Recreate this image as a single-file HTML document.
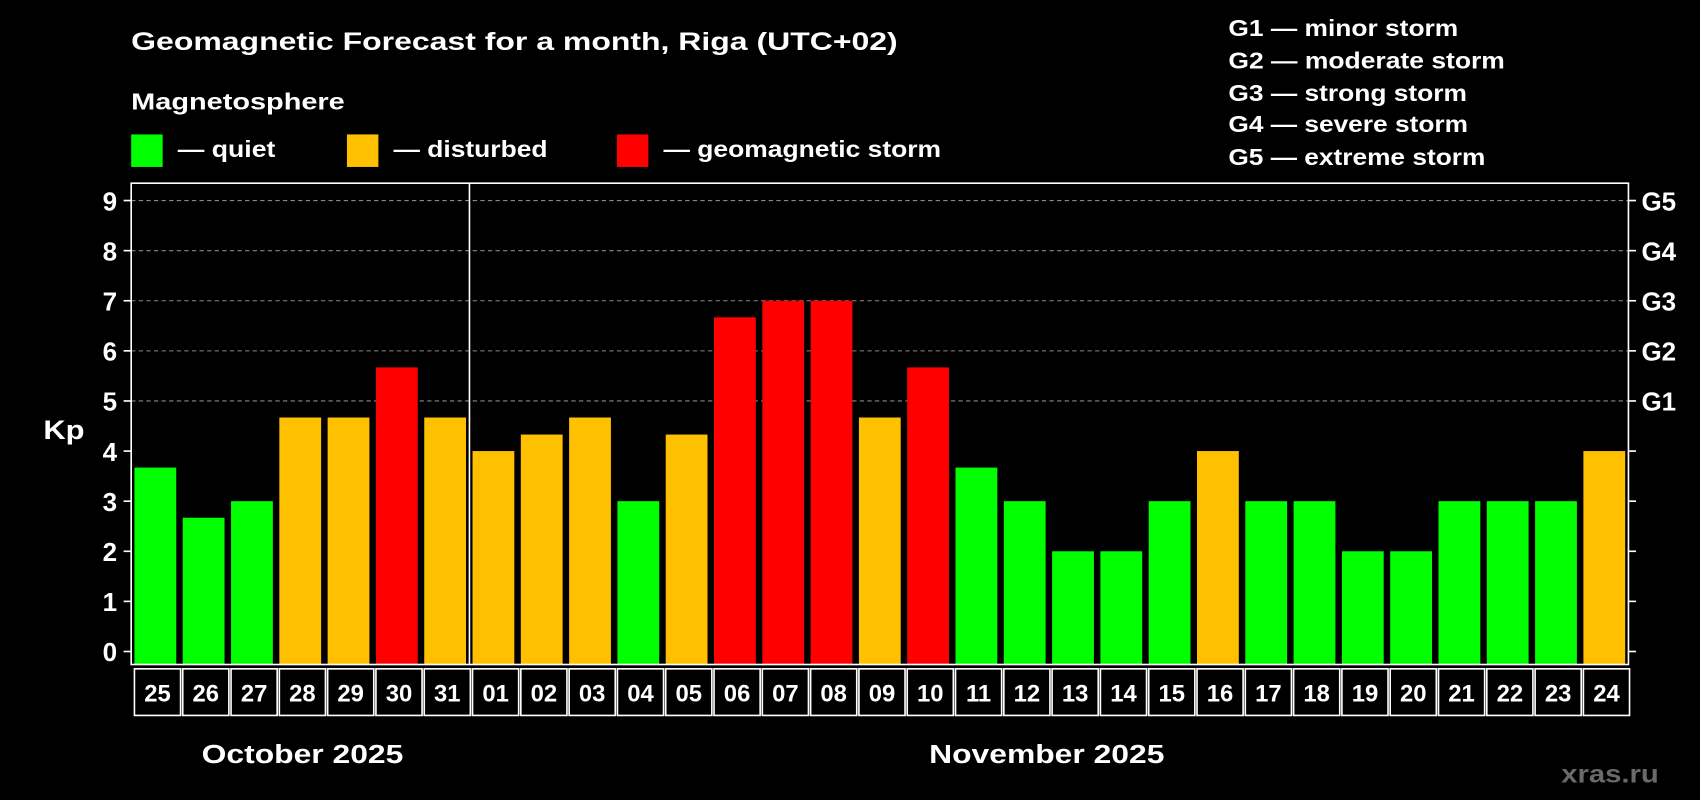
<!DOCTYPE html>
<html><head><meta charset="utf-8"><style>
html,body{margin:0;padding:0;background:#000;width:1700px;height:800px;overflow:hidden}
svg{display:block}
text{font-family:"Liberation Sans",Arial,sans-serif;font-weight:bold;fill:#fff}
</style></head><body>
<svg id="chart" width="1700" height="800" viewBox="0 0 1568 738" preserveAspectRatio="none" xmlns="http://www.w3.org/2000/svg">
<rect width="1568" height="738" fill="#000"/>
<text x="121" y="46" font-size="23" textLength="707" lengthAdjust="spacingAndGlyphs">Geomagnetic Forecast for a month, Riga (UTC+02)</text>
<text x="121" y="101" font-size="21" textLength="197" lengthAdjust="spacingAndGlyphs">Magnetosphere</text>
<rect x="121" y="124" width="29" height="30" fill="#00ff00"/>
<text x="164" y="145" font-size="21" textLength="90" lengthAdjust="spacingAndGlyphs">— quiet</text>
<rect x="320" y="124" width="29" height="30" fill="#ffc000"/>
<text x="363" y="145" font-size="21" textLength="142" lengthAdjust="spacingAndGlyphs">— disturbed</text>
<rect x="569" y="124" width="29" height="30" fill="#ff0000"/>
<text x="612" y="145" font-size="21" textLength="256" lengthAdjust="spacingAndGlyphs">— geomagnetic storm</text>
<g font-size="21">
<text x="1133" y="33" textLength="212" lengthAdjust="spacingAndGlyphs">G1 — minor storm</text>
<text x="1133" y="63" textLength="255" lengthAdjust="spacingAndGlyphs">G2 — moderate storm</text>
<text x="1133" y="93" textLength="220" lengthAdjust="spacingAndGlyphs">G3 — strong storm</text>
<text x="1133" y="122" textLength="221" lengthAdjust="spacingAndGlyphs">G4 — severe storm</text>
<text x="1133" y="152" textLength="237" lengthAdjust="spacingAndGlyphs">G5 — extreme storm</text>
</g>
<text x="40" y="405" font-size="25" textLength="38" lengthAdjust="spacingAndGlyphs">Kp</text>
<g id="grid"></g>
<g id="bars"></g>
<rect x="121" y="169" width="1381" height="444" fill="none" stroke="#fff" stroke-width="1.5"/>
<line x1="433" y1="169" x2="433" y2="613" stroke="#fff" stroke-width="1.5"/>
<g id="axes"></g>
<g id="xlabels"></g>
<text x="186" y="704" font-size="24" textLength="186" lengthAdjust="spacingAndGlyphs">October 2025</text>
<text x="857" y="704" font-size="24" textLength="217" lengthAdjust="spacingAndGlyphs">November 2025</text>
<text x="1440" y="722" font-size="23" textLength="90" lengthAdjust="spacingAndGlyphs" style="fill:#6a6a6a">xras.ru</text>
</svg>
<script>
const days = ["25","26","27","28","29","30","31","01","02","03","04","05","06","07","08","09","10","11","12","13","14","15","16","17","18","19","20","21","22","23","24"];
const kpValues = [3.67,2.67,3,4.67,4.67,5.67,4.67,4,4.33,4.67,3,4.33,6.67,7,7,4.67,5.67,3.67,3,2,2,3,4,3,3,2,2,3,3,3,4];
const yTicks = [0,1,2,3,4,5,6,7,8,9];
const gLabels = ["G1","G2","G3","G4","G5"];
const NS="http://www.w3.org/2000/svg";
const X0=121,X1=1502,Y0=601,Y9=185;
const slot=(X1-X0)/days.length;
const y=v=>Y0-(Y0-Y9)*v/9;
const xs=i=>X0+i*slot;
function mk(t,a,p){const e=document.createElementNS(NS,t);for(const k in a)e.setAttribute(k,a[k]);p.appendChild(e);return e;}
const grid=document.getElementById('grid'),bars=document.getElementById('bars'),axes=document.getElementById('axes'),xl=document.getElementById('xlabels');
yTicks.forEach(v=>{
  if(v>=5){const g=mk('line',{x1:X0,x2:X1,y1:y(v),y2:y(v),stroke:'#888','stroke-dasharray':'4 3','stroke-width':1},grid);
  
  }
  mk('line',{x1:X0-7,x2:X0,y1:y(v),y2:y(v),stroke:'#fff','stroke-width':1.5},axes);
  mk('line',{x1:X1,x2:X1+7,y1:y(v),y2:y(v),stroke:'#fff','stroke-width':1.5},axes);
  const t=mk('text',{x:X0-13,y:y(v)+9,'font-size':24,'text-anchor':'end'},axes);
  t.textContent=v;
  
  
});
gLabels.forEach((g,i)=>{
  const t=mk('text',{x:X1+12,y:y(5+i)+9,'font-size':24},axes);
  t.textContent=g;
  
  
});
kpValues.forEach((v,i)=>{
  const c=v>=5?'#ff0000':(v>=4?'#ffc000':'#00ff00');
  const r=mk('rect',{x:xs(i)+3,y:y(v),width:slot-6,height:613-y(v),fill:c},bars);
  
  
  const b=mk('rect',{x:xs(i)+3,y:617,width:slot-2,height:43,fill:'none',stroke:'#fff','stroke-width':1.5},xl);
  
  
  const t=mk('text',{x:xs(i)+slot/2+2,y:647,'font-size':22,'text-anchor':'middle'},xl);
  t.textContent=days[i];
  
  
});
</script>
</body></html>
